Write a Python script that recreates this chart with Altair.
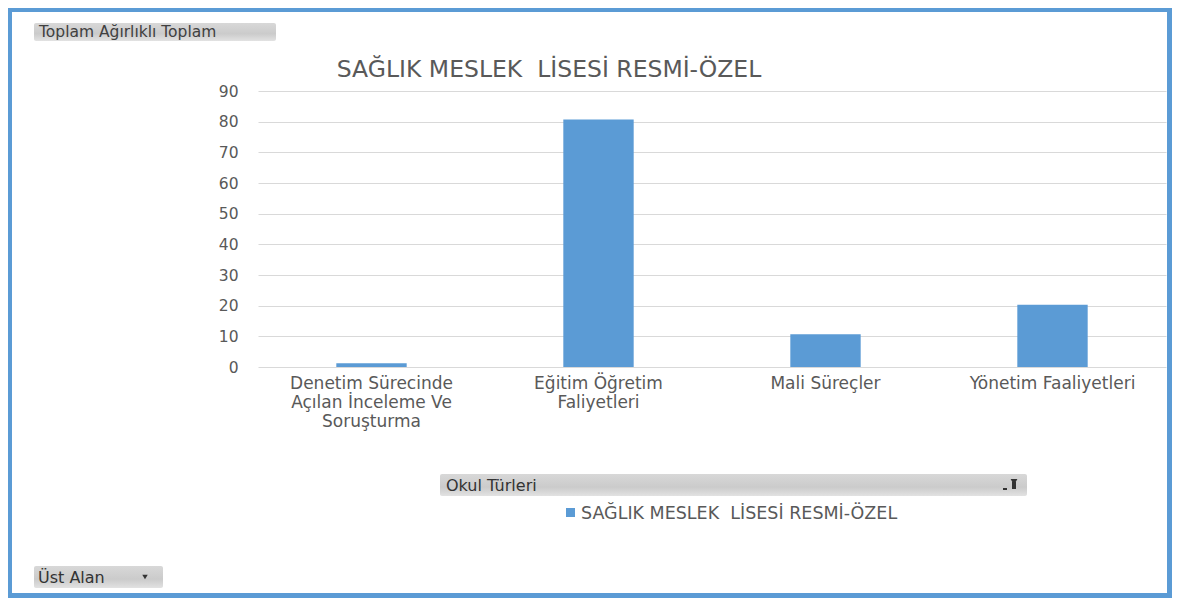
import altair as alt
import pandas as pd

# ---- data ----
categories = [
    "Denetim Sürecinde\nAçılan İnceleme Ve\nSoruşturma",
    "Eğitim Öğretim\nFaliyetleri",
    "Mali Süreçler",
    "Yönetim Faaliyetleri",
]
values = [1.2, 80.7, 10.7, 20.3]
y_ticks = [0, 10, 20, 30, 40, 50, 60, 70, 80, 90]
series_name = "SAĞLIK MESLEK \u00a0LİSESİ RESMİ-ÖZEL"
chart_title = "SAĞLIK MESLEK \u00a0LİSESİ RESMİ-ÖZEL"
field_button = "Toplam Ağırlıklı Toplam"
legend_button = "Okul Türleri"
page_button = "Üst Alan"

df = pd.DataFrame({"kategori": categories, "deger": values})

BLUE = "#5B9BD5"
TXT = "#595959"
FONT = "DejaVu Sans"
W, H = 908, 276

one = alt.Data(values=[{"k": 1}])

bars = alt.Chart(df).mark_bar(color=BLUE).encode(
    x=alt.X(
        "kategori:N",
        sort=categories,
        scale=alt.Scale(paddingInner=0.69, paddingOuter=0.345),
        axis=alt.Axis(
            title=None, labelAngle=0, domain=False, ticks=False,
            labelExpr="split(datum.label, '\\n')",
            labelFontSize=17, labelColor=TXT, labelFont=FONT,
            labelLineHeight=19, labelPadding=8, labelLimit=400,
        ),
    ),
    y=alt.Y(
        "deger:Q",
        scale=alt.Scale(domain=[0, 90], nice=False),
        axis=alt.Axis(
            title=None, values=y_ticks, domain=False, ticks=False,
            grid=True, gridColor="#d9d9d9", gridWidth=1,
            labelFontSize=15.5, labelColor=TXT, labelFont=FONT,
            labelPadding=20,
        ),
    ),
)

def rect(x1, x2, y1, y2, fill):
    return alt.Chart(one).mark_rect(fill=fill).encode(
        x=alt.value(x1), x2=alt.value(x2), y=alt.value(y1), y2=alt.value(y2)
    )

def grad_rect(x1, x2, y1, y2):
    g = alt.Gradient(
        gradient="linear",
        stops=[alt.GradientStop(color="#d8d8d8", offset=0),
               alt.GradientStop(color="#cbcbcb", offset=0.6),
               alt.GradientStop(color="#e2e2e2", offset=1)],
        x1=0, x2=0, y1=0, y2=1,
    )
    return alt.Chart(one).mark_rect(fill=g, cornerRadius=2).encode(
        x=alt.value(x1), x2=alt.value(x2), y=alt.value(y1), y2=alt.value(y2)
    )

def text(s, x, y, size, color=TXT, align="left", baseline="alphabetic"):
    return alt.Chart(one).mark_text(
        text=s, fontSize=size, color=color, font=FONT, align=align, baseline=baseline
    ).encode(x=alt.value(x), y=alt.value(y))

OX, OY = 258, 91  # page position of plot origin

def px(x):
    return x - OX

def py(y):
    return y - OY

layers = []
# frame (blue border)
layers.append(rect(px(8), px(12), py(8), py(598), BLUE))
layers.append(rect(px(8), px(1172), py(8), py(12), BLUE))
layers.append(rect(px(1167), px(1172), py(8), py(598), BLUE))
layers.append(rect(px(8), px(1172), py(593), py(598), BLUE))

# field button top-left
layers.append(grad_rect(px(34), px(276), py(23), py(41)))
layers.append(text(field_button, px(39), py(37), 15.5, "#404040"))

# title
layers.append(text(chart_title, px(549), py(77), 23.5, TXT, align="center"))

# legend field button
layers.append(grad_rect(px(440), px(1027), py(474), py(496)))
layers.append(text(legend_button, px(446), py(491), 16, "#333333"))
layers.append(alt.Chart(one).mark_point(shape="triangle-down", filled=True, color="#333333", size=45, opacity=1).encode(
    x=alt.value(px(1014)), y=alt.value(py(482))))
layers.append(rect(px(1012), px(1016), py(482), py(489), "#333333"))
layers.append(rect(px(1003), px(1007), py(488), py(490), "#333333"))

# legend entry
layers.append(rect(px(566), px(575), py(508), py(517), BLUE))
layers.append(text(series_name, px(581), py(519), 17.5, TXT))

# page field button bottom-left
layers.append(grad_rect(px(34), px(163), py(566), py(588)))
layers.append(text(page_button, px(38), py(583), 16, "#333333"))
layers.append(alt.Chart(one).mark_point(shape="triangle-down", filled=True, color="#333333", size=30, opacity=1).encode(
    x=alt.value(px(145)), y=alt.value(py(577))))

chart = alt.layer(bars, *layers).properties(
    width=W, height=H,
    autosize=alt.AutoSizeParams(type="none"),
    padding={"left": 250, "top": 83, "right": 6, "bottom": 231},
    background="white",
).configure_view(stroke=None)

chart.save("out.html", embed_options={"renderer": "svg", "actions": False})
